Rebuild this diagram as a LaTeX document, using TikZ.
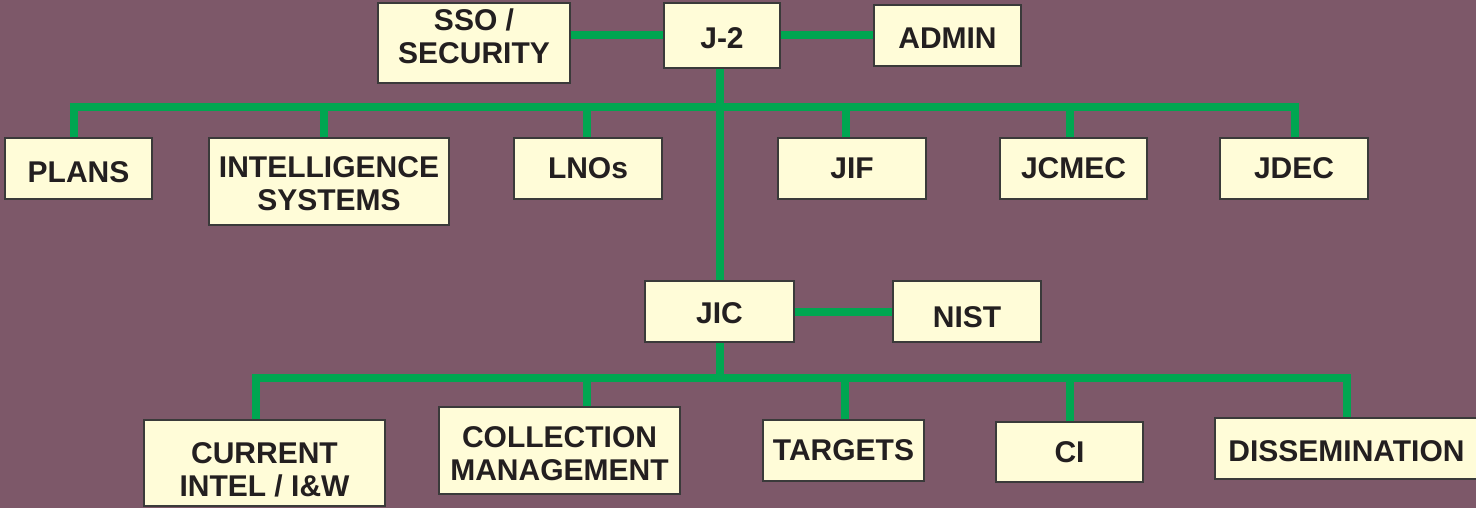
\documentclass[tikz,border=0pt]{standalone}
\usepackage{fontspec}
\setmainfont{Liberation Sans}
\definecolor{bgpurple}{HTML}{7D5869}
\definecolor{orggreen}{HTML}{00A651}
\definecolor{boxfill}{HTML}{FFFCD8}
\definecolor{boxline}{HTML}{3A3A3A}
\definecolor{textdark}{HTML}{231F20}
\newcommand{\twolines}[2]{\begin{tabular}{@{}c@{}}#1\\#2\end{tabular}}
\newcommand{\shiftdown}[2]{\raisebox{-#1}[\height][\depth]{#2}}
\tikzset{
  orgbox/.style={draw=boxline, line width=1.2pt, fill=boxfill, inner sep=0pt,
    align=center, font=\fontsize{30}{33}\selectfont\bfseries, text=textdark},
  link/.style={draw=orggreen, line width=8pt, line join=miter, line cap=butt}
}
\begin{document}
\begin{tikzpicture}[x=1pt,y=-1pt]
\fill[bgpurple] (0,0) rectangle (1476,508);
\useasboundingbox (0,0) rectangle (1476,508);

\coordinate (b1) at (719,107);
\coordinate (b2) at (720,378);

% connectors (drawn first, behind the boxes)
\coordinate (ssoE) at (570,35.5);
\coordinate (j2W) at (664,35.5);
\coordinate (j2E) at (780,35.5);
\coordinate (admW) at (874,35.5);
\path[link] (ssoE) -- (j2W);
\path[link] (j2E) -- (admW);

% top row
\node[orgbox, minimum width=192pt, minimum height=80pt] (sso) at (474,43) {\shiftdown{-2.5pt}{\twolines{SSO /}{SECURITY}}};
\node[orgbox, minimum width=116pt, minimum height=65pt] (j2) at (722,35.5) {\shiftdown{3pt}{J-2}};
\node[orgbox, minimum width=147pt, minimum height=61pt] (admin) at (947.5,35.5) {\shiftdown{3pt}{ADMIN}};

% second row
\node[orgbox, minimum width=147pt, minimum height=61pt] (plans) at (78.5,168.5) {\shiftdown{4pt}{PLANS}};
\node[orgbox, minimum width=240pt, minimum height=87pt] (intsys) at (329,181.5) {\shiftdown{6pt}{\twolines{INTELLIGENCE}{SYSTEMS}}};
\node[orgbox, minimum width=148pt, minimum height=61pt] (lnos) at (588,168.5) {LNOs};
\node[orgbox, minimum width=148pt, minimum height=61pt] (jif) at (852,168.5) {JIF};
\node[orgbox, minimum width=147pt, minimum height=61pt] (jcmec) at (1073.5,168.5) {JCMEC};
\node[orgbox, minimum width=148pt, minimum height=61pt] (jdec) at (1294,168.5) {JDEC};

% JIC row
\node[orgbox, minimum width=149pt, minimum height=61pt] (jic) at (719.5,311.5) {\shiftdown{2pt}{JIC}};
\node[orgbox, minimum width=148pt, minimum height=61pt] (nist) at (967,311.5) {\shiftdown{6pt}{NIST}};

% bottom row
\node[orgbox, minimum width=241pt, minimum height=86pt] (current) at (264.5,463) {\shiftdown{10pt}{\twolines{CURRENT}{INTEL / I\&W}}};
\node[orgbox, minimum width=241pt, minimum height=87pt] (collection) at (559.5,450.5) {\shiftdown{7pt}{\twolines{COLLECTION}{MANAGEMENT}}};
\node[orgbox, minimum width=161pt, minimum height=61pt] (targets) at (843.5,450.5) {TARGETS};
\node[orgbox, minimum width=147pt, minimum height=60pt] (ci) at (1069.5,452) {CI};
\node[orgbox, minimum width=263pt, minimum height=61pt] (dissem) at (1346.5,448.5) {\shiftdown{3pt}{DISSEMINATION}};

% tree connectors
\path[link] (jic.north) -- (jic.north |- j2.south);
\path[link] ([xshift=-4.5pt]plans.north) |- ([xshift=1pt]jdec.north |- b1) -- ([xshift=1pt]jdec.north);
\path[link] ([xshift=-5pt]intsys.north) -- ([xshift=-5pt]intsys.north |- b1);
\path[link] ([xshift=-1pt]lnos.north) -- ([xshift=-1pt]lnos.north |- b1);
\path[link] ([xshift=-6pt]jif.north) -- ([xshift=-6pt]jif.north |- b1);
\path[link] ([xshift=-3.5pt]jcmec.north) -- ([xshift=-3.5pt]jcmec.north |- b1);
\path[link] (jic.east) -- (nist.west);
\path[link] (jic.south) -- (jic.south |- b2);
\path[link] ([xshift=-8.5pt]current.north) |- (dissem.north |- b2) -- (dissem.north);
\path[link] ([xshift=27.5pt]collection.north) -- ([xshift=27.5pt]collection.north |- b2);
\path[link] ([xshift=1.5pt]targets.north) -- ([xshift=1.5pt]targets.north |- b2);
\path[link] (ci.north) -- (ci.north |- b2);
\end{tikzpicture}
\end{document}
